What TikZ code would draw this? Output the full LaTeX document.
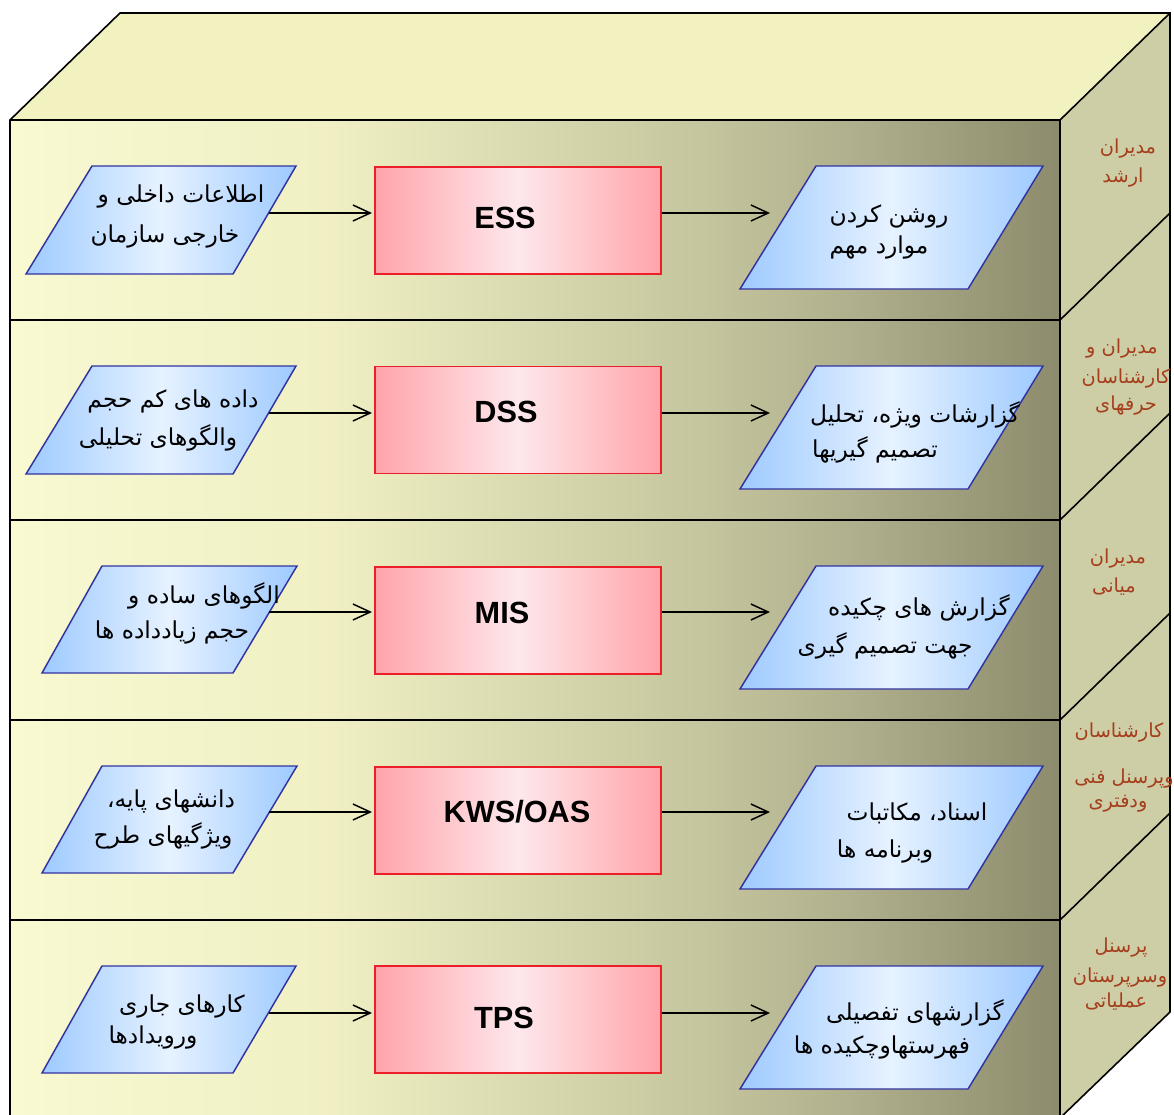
\documentclass[tikz,border=0pt]{standalone}
\usepackage{fontspec}
\setmainfont{Liberation Sans}
\newfontfamily\fa[Script=Arabic]{DejaVu Sans}
\TeXXeTstate=1
\usetikzlibrary{arrows.meta}
\definecolor{fA}{RGB}{249,249,210}
\definecolor{fB}{RGB}{240,240,196}
\definecolor{fC}{RGB}{205,205,164}
\definecolor{fD}{RGB}{176,176,142}
\definecolor{fE}{RGB}{140,140,108}
\definecolor{topc}{RGB}{242,242,192}
\definecolor{rightc}{RGB}{206,206,166}
\definecolor{bEdge}{RGB}{158,202,255}
\definecolor{bMid}{RGB}{230,242,255}
\definecolor{bLine}{RGB}{51,51,160}
\definecolor{rEdge}{RGB}{255,164,170}
\definecolor{rMid}{RGB}{253,232,236}
\definecolor{rLine}{RGB}{236,30,40}
\definecolor{lvlc}{RGB}{165,62,28}
\pgfdeclarehorizontalshading{frontsh}{100bp}{color(0bp)=(fA); color(25bp)=(fA); color(40bp)=(fB); color(55bp)=(fC); color(65bp)=(fD); color(75bp)=(fE); color(100bp)=(fE)}
\tikzset{
  edgeline/.style={draw=black, line width=1.2pt},
  procbox/.style={draw=rLine, line width=1.1pt, left color=rEdge, right color=rEdge, middle color=rMid,
     minimum width=214.5pt, minimum height=80pt, inner sep=0pt},
  databox/.style={draw=bLine, line width=1.1pt, left color=bEdge, right color=bEdge, middle color=bMid},
  fatext/.style={font=\fa\fontsize{17.5}{20}\selectfont, inner sep=0pt, anchor=base},
  lvltext/.style={font=\fa\fontsize{14.5}{17}\selectfont, text=lvlc, inner sep=0pt, anchor=base},
  proclabel/.style={font=\fontsize{23}{27}\selectfont\bfseries, inner sep=0pt, anchor=base},
  flowarrow/.style={draw=black, line width=1.1pt, -{Straight Barb[length=13pt,width=12pt,line width=1.1pt]}}
}
\begin{document}
\begin{tikzpicture}[x=0.75pt,y=-0.75pt]
\useasboundingbox (0,0) rectangle (1174,1114);
% top face
\path[fill=topc] (10,120) -- (120,13) -- (1170,13) -- (1060,120) -- cycle;
% right face
\path[fill=rightc] (1060,120) -- (1170,13) -- (1170,1012) -- (1060,1118) -- cycle;
% front face
\path[shading=frontsh] (10,120) rectangle (1060,1118);
% edges
\draw[edgeline] (10,1118) -- (10,120) -- (120,13) -- (1170,13) -- (1170,1012) -- (1060,1118);
\draw[edgeline] (10,120) -- (1060,120) -- (1170,13);
\draw[edgeline] (1060,120) -- (1060,1118);
\foreach \yy in {320,520,720,920}{
  \draw[edgeline] (10,\yy) -- (1060,\yy) -- (1170,\yy-107);
}
% ---------- row 1 ----------
\path[databox] (26,274) -- (233,274) -- (296,166) -- (92,166) -- cycle;
\coordinate (inA) at (269,213);
\path[databox] (740,289) -- (968,289) -- (1043,166) -- (816,166) -- cycle;
\coordinate (outA) at (770,213);
\node[procbox] (ess) at (518,220.5) {};
\node[proclabel] (essl) at (505,228) {ESS};
\draw[flowarrow] (inA) -- (372,213);
\draw[flowarrow] (ess.east |- 0,213) -- (outA);
\node[fatext] (a1) at (181,202) {\beginR اطلاعات داخلی و\endR};
\node[fatext] (a2) at (165,242) {\beginR خارجی سازمان\endR};
\node[fatext] (b1) at (889,222) {\beginR روشن کردن\endR};
\node[fatext] (b2) at (879,253) {\beginR موارد مهم\endR};
% ---------- row 2 ----------
\path[databox] (26,474) -- (233,474) -- (296,366) -- (92,366) -- cycle;
\coordinate (inB) at (269,413);
\path[databox] (740,489) -- (968,489) -- (1043,366) -- (816,366) -- cycle;
\coordinate (outB) at (770,413);
\node[procbox] (dss) at (518,420) {};
\node[proclabel] (dssl) at (506,422) {DSS};
\draw[flowarrow] (inB) -- (372,413);
\draw[flowarrow] (dss.east |- 0,413) -- (outB);
\node[fatext] (c1) at (173,407) {\beginR داده های کم حجم\endR};
\node[fatext] (c2) at (158,445) {\beginR والگوهای تحلیلی\endR};
\node[fatext] (d1) at (915,422) {\beginR گزارشات ویژه، تحلیل\endR};
\node[fatext] (d2) at (875,457) {\beginR تصمیم گیریها\endR};
% ---------- row 3 ----------
\path[databox] (42,673) -- (233,673) -- (297,566) -- (102,566) -- cycle;
\coordinate (inC) at (269,612);
\path[databox] (740,689) -- (968,689) -- (1043,566) -- (816,566) -- cycle;
\coordinate (outC) at (770,612);
\node[procbox] (mis) at (518,620.5) {};
\node[proclabel] (misl) at (502,623) {MIS};
\draw[flowarrow] (inC) -- (372,612);
\draw[flowarrow] (mis.east |- 0,612) -- (outC);
\node[fatext] (e1) at (204,603) {\beginR الگوهای ساده و\endR};
\node[fatext] (e2) at (172,638) {\beginR حجم زیادداده ها\endR};
\node[fatext] (f1) at (919,615) {\beginR گزارش های چکیده\endR};
\node[fatext] (f2) at (885,653) {\beginR جهت تصمیم گیری\endR};
% ---------- row 4 ----------
\path[databox] (42,873) -- (233,873) -- (297,766) -- (102,766) -- cycle;
\coordinate (inD) at (269,812);
\path[databox] (740,889) -- (968,889) -- (1043,766) -- (816,766) -- cycle;
\coordinate (outD) at (770,812);
\node[procbox] (kws) at (518,820.5) {};
\node[proclabel] (kwsl) at (517,822) {KWS/OAS};
\draw[flowarrow] (inD) -- (372,812);
\draw[flowarrow] (kws.east |- 0,812) -- (outD);
\node[fatext] (g1) at (171,807) {\beginR دانشهای پایه،\endR};
\node[fatext] (g2) at (163,843) {\beginR ویژگیهای طرح\endR};
\node[fatext] (h1) at (917,820) {\beginR اسناد، مکاتبات\endR};
\node[fatext] (h2) at (885,857) {\beginR وبرنامه ها\endR};
% ---------- row 5 ----------
\path[databox] (42,1073) -- (233,1073) -- (296,966) -- (102,966) -- cycle;
\coordinate (inE) at (269,1013);
\path[databox] (740,1089) -- (968,1089) -- (1043,966) -- (816,966) -- cycle;
\coordinate (outE) at (770,1013);
\node[procbox] (tps) at (518,1019.5) {};
\node[proclabel] (tpsl) at (504,1028) {TPS};
\draw[flowarrow] (inE) -- (372,1013);
\draw[flowarrow] (tps.east |- 0,1013) -- (outE);
\node[fatext] (i1) at (182,1012) {\beginR کارهای جاری\endR};
\node[fatext] (i2) at (153,1043) {\beginR ورویدادها\endR};
\node[fatext] (j1) at (915,1020) {\beginR گزارشهای تفصیلی\endR};
\node[fatext] (j2) at (882,1053) {\beginR فهرستهاوچکیده ها\endR};
% ---------- level labels ----------
\node[lvltext] (l1a) at (1128,153) {\beginR مدیران\endR};
\node[lvltext] (l1b) at (1123,182) {\beginR ارشد\endR};
\node[lvltext] (l2a) at (1122,353) {\beginR مدیران و\endR};
\node[lvltext] (l2b) at (1126,383) {\beginR کارشناسان\endR};
\node[lvltext] (l2c) at (1126,410) {\beginR حرفهای\endR};
\node[lvltext] (l3a) at (1118,563) {\beginR مدیران\endR};
\node[lvltext] (l3b) at (1114,592) {\beginR میانی\endR};
\node[lvltext] (l4a) at (1119,737) {\beginR کارشناسان\endR};
\node[lvltext] (l4b) at (1124,783) {\beginR وپرسنل فنی\endR};
\node[lvltext] (l4c) at (1118,807) {\beginR ودفتری\endR};
\node[lvltext] (l5a) at (1121,952) {\beginR پرسنل\endR};
\node[lvltext] (l5b) at (1120,982) {\beginR وسرپرستان\endR};
\node[lvltext] (l5c) at (1116,1007) {\beginR عملیاتی\endR};
\end{tikzpicture}
\end{document}
